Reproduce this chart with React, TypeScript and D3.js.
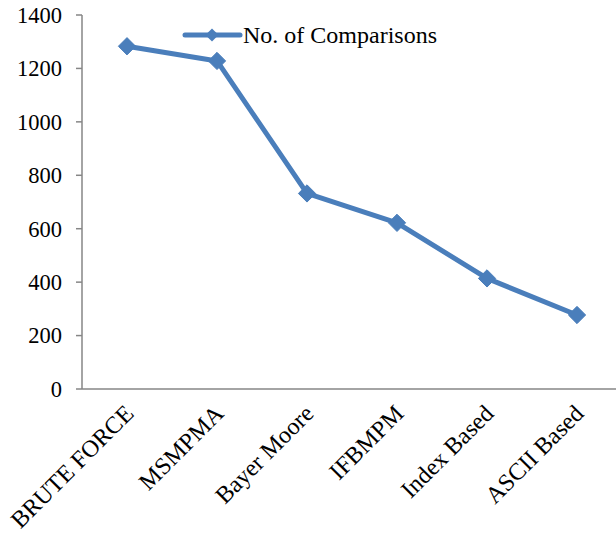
import React, { useEffect, useRef } from "react";
import * as d3 from "d3";

const categories = ["BRUTE FORCE", "MSMPMA", "Bayer Moore", "IFBMPM", "Index Based", "ASCII Based"];
const comparisons = [1283, 1228, 732, 622, 414, 277];
const yTicks = [0, 200, 400, 600, 800, 1000, 1200, 1400];
const seriesName = "No. of Comparisons";

const W = 616;
const H = 535;
const COLOR = "#4A7EBB";
const AXIS = "#868686";
const FONT = "'Liberation Serif', 'Times New Roman', serif";

export default function App() {
  const ref = useRef<SVGSVGElement | null>(null);

  useEffect(() => {
    const svg = d3.select(ref.current);
    svg.selectAll("*").remove();

    const x = d3.scalePoint<string>().domain(categories).range([82, 622]).padding(0.5);
    const y = d3.scaleLinear().domain([0, 1400]).range([389, 15]);

    // value axis
    const yAxis = svg.append("g");
    yAxis.append("line").attr("x1", 82).attr("x2", 82).attr("y1", y(1400)).attr("y2", y(0))
      .attr("stroke", AXIS).attr("stroke-width", 1.5);
    yAxis.selectAll("line.tick").data(yTicks).join("line").attr("class", "tick")
      .attr("x1", 76).attr("x2", 82).attr("y1", (d) => y(d)).attr("y2", (d) => y(d))
      .attr("stroke", AXIS).attr("stroke-width", 1.5);
    yAxis.selectAll("text").data(yTicks).join("text")
      .attr("x", 62).attr("y", (d) => y(d)).attr("dy", "0.35em")
      .attr("text-anchor", "end").attr("font-family", FONT).attr("font-size", 22.5)
      .attr("fill", "#000").text((d) => String(d));

    // category axis
    svg.append("line").attr("x1", 82).attr("x2", W).attr("y1", y(0)).attr("y2", y(0))
      .attr("stroke", AXIS).attr("stroke-width", 1.5);
    svg.append("g").selectAll("text").data(categories).join("text")
      .attr("transform", (d) => `translate(${(x(d) as number) + 8},${y(0) + 26}) rotate(-45)`)
      .attr("text-anchor", "end").attr("font-family", FONT).attr("font-size", 24)
      .attr("fill", "#000").text((d) => d);

    // series line
    const line = d3.line<number>().x((_, i) => x(categories[i]) as number).y((d) => y(d));
    svg.append("path").datum(comparisons).attr("d", line).attr("fill", "none")
      .attr("stroke", COLOR).attr("stroke-width", 5).attr("stroke-linejoin", "round");

    const diamond = d3.symbol().type(d3.symbolDiamond2).size(190);
    svg.append("g").selectAll("path").data(comparisons).join("path")
      .attr("d", diamond)
      .attr("transform", (d, i) => `translate(${x(categories[i])},${y(d)})`)
      .attr("fill", COLOR).attr("stroke", COLOR).attr("stroke-width", 1);

    // legend
    const lg = svg.append("g");
    lg.append("line").attr("x1", 185).attr("x2", 240).attr("y1", 35).attr("y2", 35)
      .attr("stroke", COLOR).attr("stroke-width", 5).attr("stroke-linecap", "round");
    lg.append("path").attr("d", d3.symbol().type(d3.symbolDiamond2).size(110))
      .attr("transform", "translate(212,35)").attr("fill", COLOR);
    lg.append("text").attr("x", 243).attr("y", 35).attr("dy", "0.35em")
      .attr("font-family", FONT).attr("font-size", 24).attr("fill", "#000").text(seriesName);
  }, []);

  return <svg ref={ref} width={W} height={H} style={{ display: "block", position: "absolute", left: 0, top: 0, background: "#fff" }} />;
}
